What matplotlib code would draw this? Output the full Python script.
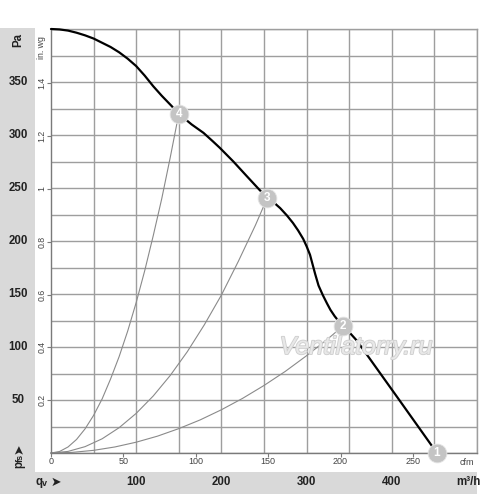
import matplotlib
matplotlib.use('Agg')
import matplotlib.pyplot as plt
import matplotlib.transforms as mtransforms
import matplotlib.patheffects as pe
from matplotlib.patches import Rectangle
import numpy as np

# ---------------- data ----------------
# fan characteristic: flow in m³/h, static pressure in Pa
fan_q = [0, 10, 20, 30, 40, 50, 60, 70, 80, 90, 100, 110, 120, 130, 142, 150,
         165, 179, 190, 198, 214, 230, 245, 254, 262, 269, 277, 284, 290, 296,
         300, 304, 307, 310, 314, 319, 324, 328, 333, 338, 343, 350, 359, 383,
         407, 430, 453]
fan_p = [400, 399.6, 398.5, 396.5, 394, 391, 387, 383, 378, 372, 365, 356, 346,
         337, 327, 320, 310, 302, 294, 288, 275, 261, 248, 241, 236, 231, 224,
         217, 210, 202, 195, 187, 178, 169, 158, 149, 141, 135, 129, 124, 120,
         114, 106, 79, 52, 26, 0]

# system curves through the operating points
sys4_q = [0, 10, 20, 30, 40, 50, 60, 70, 80, 90, 100, 110, 120, 130, 140, 150]
sys4_p = [0, 1.4, 5.7, 12.8, 22.8, 35.5, 51, 70, 91, 115, 142, 172, 205, 240,
          279, 320]
sys3_q = [0, 20, 40, 60, 80, 100, 120, 140, 160, 180, 200, 220, 240, 254]
sys3_p = [0, 1.5, 6, 13.4, 23.9, 37.4, 53.8, 73.2, 95.6, 121, 149, 181, 215, 241]
sys2_q = [0, 25, 50, 75, 100, 125, 150, 175, 200, 225, 250, 275, 300, 325, 343]
sys2_p = [0, 0.6, 2.5, 5.7, 10.2, 15.9, 23, 31.2, 40.8, 51.6, 63.7, 77, 91.8,
          107.7, 120]

# operating points
op_labels = ['1', '2', '3', '4']
op_q = [453, 343, 254, 150]
op_p = [0, 120, 241, 320]

# axis labels
pa_ticks = [50, 100, 150, 200, 250, 300, 350]
inwg_ticks = [0.2, 0.4, 0.6, 0.8, 1, 1.2, 1.4]
inwg_labels = ['0.2', '0.4', '0.6', '0.8', '1', '1.2', '1.4']
m3h_ticks = [100, 200, 300, 400]
cfm_ticks = [0, 50, 100, 150, 200, 250]

PA_PER_INWG = 249.09
M3H_PER_CFM = 1.699

# ---------------- figure ----------------
plt.rcParams['font.family'] = ['Liberation Sans', 'DejaVu Sans']
W, H = 500, 494
fig = plt.figure(figsize=(W / 100, H / 100), dpi=100)
fig.patch.set_facecolor('white')

band = '#d9d9d9'
fig.add_artist(Rectangle((0, 0), 35 / W, (H - 28) / H, transform=fig.transFigure,
                         facecolor=band, edgecolor='none', zorder=0))
fig.add_artist(Rectangle((0, 0), 477 / W, (H - 472) / H, transform=fig.transFigure,
                         facecolor=band, edgecolor='none', zorder=0))

ax = fig.add_axes([51 / W, 1 - 453 / H, 426 / W, 424 / H])
ax.set_xlim(0, 500)
ax.set_ylim(0, 400)
ax.set_facecolor('white')

gridc = '#9e9e9e'
ax.set_xticks(np.arange(0, 501, 50), minor=True)
ax.set_yticks(np.arange(0, 401, 25), minor=True)
ax.grid(which='minor', color=gridc, lw=1.0)
ax.tick_params(which='minor', length=0)
for s in ax.spines.values():
    s.set_color(gridc)
    s.set_linewidth(1.0)
ax.spines['bottom'].set_color('#7a7a7a')
ax.spines['left'].set_color('#7a7a7a')

# major ticks: cfm (bottom) and in.wg (left), labels drawn as text
ax.set_xticks([c * M3H_PER_CFM for c in cfm_ticks])
ax.set_yticks([v * PA_PER_INWG for v in inwg_ticks])
ax.tick_params(which='major', length=3, width=0.8, color='#7a7a7a',
               labelbottom=False, labelleft=False)

# system curves
for q, p in [(sys4_q, sys4_p), (sys3_q, sys3_p), (sys2_q, sys2_p)]:
    ax.plot(q, p, color='#8a8a8a', lw=0.8, zorder=2, clip_on=False)

# fan curve
ax.plot(fan_q, fan_p, color='black', lw=1.6, zorder=3, clip_on=False,
        solid_capstyle='round', solid_joinstyle='round')

# operating points
for lab, q, p in zip(op_labels, op_q, op_p):
    ax.plot([q], [p], 'o', ms=13.5, color='#c4c4c4', mec='#e4e4e4', mew=0.6,
            zorder=4, clip_on=False)
    ax.text(q, p, lab, color='white', fontsize=8.5, fontweight='bold',
            ha='center', va='center', zorder=5, clip_on=False)

# watermark
ax.text(358, 100, 'Ventilatorry.ru', fontsize=18, style='italic', color='#e8e8e8',
        ha='center', va='center', zorder=6,
        path_effects=[pe.withStroke(linewidth=1.3, foreground='#cfcfcf')])

# ---------------- texts ----------------
tr_fig_y = mtransforms.blended_transform_factory(fig.transFigure, ax.transData)
tr_x_fig = mtransforms.blended_transform_factory(ax.transData, fig.transFigure)

bold = dict(fontsize=8.3, fontweight='bold', color='#222222')

for v in pa_ticks:
    fig.text(18 / W, v, str(v), transform=tr_fig_y, ha='center', va='center', **bold)
fig.text(18 / W, 1 - 40 / H, 'Pa', rotation=90, ha='center', va='center', **bold)

for v, lab in zip(inwg_ticks, inwg_labels):
    fig.text(42 / W, v * PA_PER_INWG, lab, transform=tr_fig_y, rotation=90,
             ha='center', va='center', fontsize=6.3, color='#444444')
fig.text(42 / W, 1 - 48 / H, 'in. wg', rotation=90, ha='center', va='center',
         fontsize=6.3, color='#444444')

for c in cfm_ticks:
    fig.text(c * M3H_PER_CFM, 1 - 461.5 / H, str(c), transform=tr_x_fig,
             ha='center', va='center', fontsize=6.5, color='#444444')
fig.text(466.5 / W, 1 - 462 / H, 'cfm', ha='center', va='center',
         fontsize=6.5, color='#444444')

for v in m3h_ticks:
    fig.text(v, 1 - 482 / H, str(v), transform=tr_x_fig,
             ha='center', va='center', **bold)
fig.text(468 / W, 1 - 482 / H, 'm³/h', ha='center', va='center', **bold)

# qv arrow label
fig.text(35 / W, 1 - 482 / H, 'q', ha='left', va='center', **bold)
fig.text(41.5 / W, 1 - 483.5 / H, 'v', ha='left', va='center',
         fontsize=6.5, fontweight='bold', color='#222222')
fig.text(56 / W, 1 - 482 / H, '➤', ha='center', va='center', fontsize=9,
         color='#222222', family=['DejaVu Sans'])

# pfs arrow label (rotated)
fig.text(19 / W, 1 - 464.5 / H, 'p', rotation=90, ha='center', va='center', **bold)
fig.text(20.5 / W, 1 - 457.5 / H, 'fs', rotation=90, ha='center', va='center',
         fontsize=6.5, fontweight='bold', color='#222222')
fig.text(19 / W, 1 - 449 / H, '➤', rotation=90, ha='center', va='center',
         fontsize=9, color='#222222', family=['DejaVu Sans'])

fig.savefig('out.png', dpi=100, facecolor='white')
